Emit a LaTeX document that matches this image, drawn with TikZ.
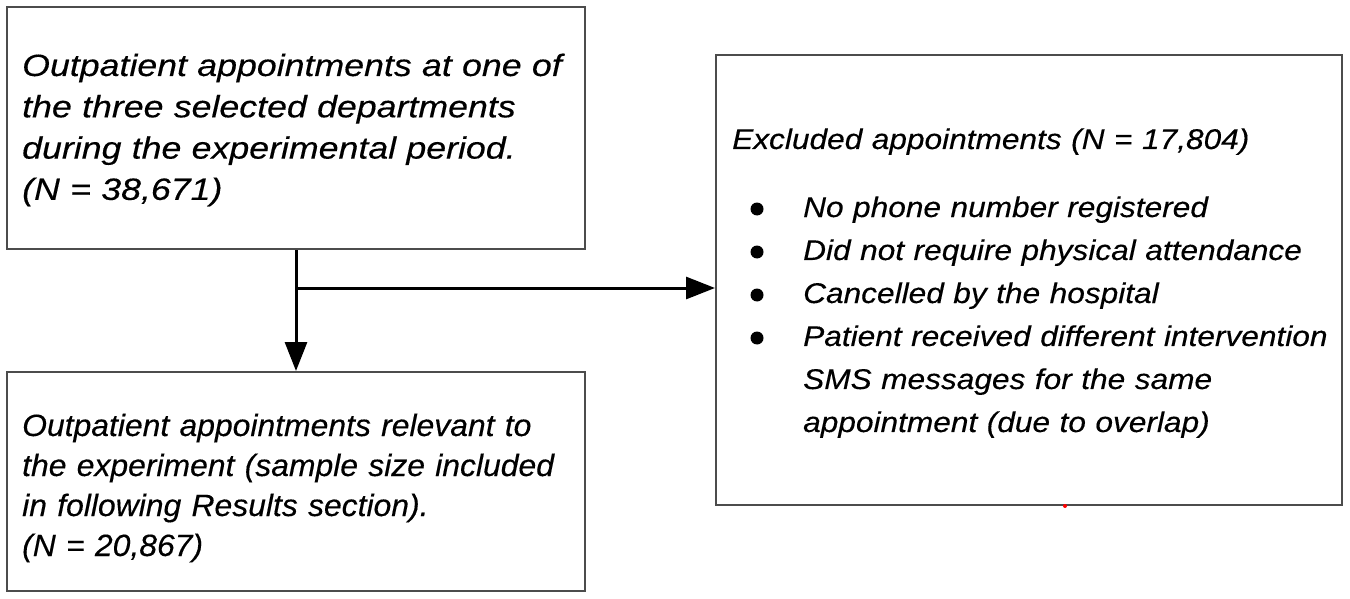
\documentclass[tikz,border=0pt]{standalone}
\usepackage{fontspec}
\setmainfont{Liberation Sans}
\newfontfamily\fa{Liberation Sans}[FakeStretch=1.16,FakeBold=0.3]
\newfontfamily\fb{Liberation Sans}[FakeStretch=1.035,FakeBold=0.3]
\newfontfamily\fc{Liberation Sans}[FakeStretch=1.11,FakeBold=0.3]
\usetikzlibrary{arrows.meta}
\tikzset{
  box/.style={draw=black!70, line width=2pt, rectangle, inner sep=0pt},
  txt/.style={anchor=base west, align=left, inner sep=0pt, text width=#1},
  conn/.style={line width=3pt, -{Triangle[length=29pt,width=22pt]}},
  bulletdot/.style={fill=black}
}
\begin{document}
\begin{tikzpicture}[x=1pt,y=-1pt]
\useasboundingbox (0,0) rectangle (1350,599);
% boxes
\node[box, minimum width=578pt, minimum height=242pt] (b1) at (296,128) {};
\node[box, minimum width=578pt, minimum height=219pt] (b2) at (296,481.5) {};
\node[box, minimum width=626pt, minimum height=450pt] (b3) at (1029,280) {};
% texts
\node[txt=560pt, font=\fa\itshape\fontsize{30.8}{41.3}\selectfont] (t1) at (22,76)
  {Outpatient appointments at one of\\the three selected departments\\during the experimental period.\\(N = 38,671)};
\node[txt=560pt, font=\fb\itshape\fontsize{30.8}{40}\selectfont] (t2) at (22,436)
  {Outpatient appointments relevant to\\the experiment (sample size included\\in following Results section).\\(N = 20,867)};
\node[txt=600pt, font=\fc\itshape\fontsize{28.5}{43}\selectfont] (t3) at (732,149)
  {Excluded appointments (N = 17,804)};
\node[txt=560pt, font=\fc\itshape\fontsize{28.5}{43}\selectfont] (t4) at (803,217)
  {No phone number registered\\Did not require physical attendance\\Cancelled by the hospital\\Patient received different intervention\\SMS messages for the same\\appointment (due to overlap)};
% bullets
\foreach \k in {0,1,2,3} {
  \fill[bulletdot] (757,{209+43*\k}) circle (6.5pt);
}
% connectors
\coordinate (j) at (296,288);
\draw[conn] (b1.south) -- (b2.north);
\draw[conn] (j) -- (j -| b3.west);
\fill[red] (1065,506) circle (2pt);
\end{tikzpicture}
\end{document}
